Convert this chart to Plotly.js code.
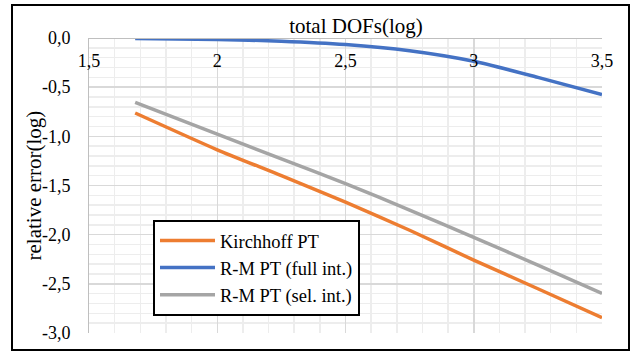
<!DOCTYPE html>
<html>
<head>
<meta charset="utf-8">
<script src="https://cdn.plot.ly/plotly-3.0.1.min.js"></script>
<style>
  html, body { margin: 0; padding: 0; background: #ffffff; }
  #chart { width: 635px; height: 352px; }
</style>
</head>
<body>
<div id="chart"></div>
<script>
// log10 of total DOFs (sample positions)
const dofsLog = [1.68, 2.0, 2.25, 2.5, 2.75, 3.0, 3.25, 3.5];
// log10 of relative error
const kirchhoff = [-0.763, -1.137, -1.40, -1.67, -1.955, -2.259, -2.55, -2.845];
const rmFull    = [-0.005, -0.015, -0.032, -0.066, -0.13, -0.237, -0.40, -0.575];
const rmSel     = [-0.655, -0.977, -1.23, -1.48, -1.75, -2.027, -2.31, -2.598];

const seriesNames = ["Kirchhoff PT", "R-M PT (full int.)", "R-M PT (sel. int.)"];
const xTickVals = [1.5, 2, 2.5, 3, 3.5];
const xTickText = ["1,5", "2", "2,5", "3", "3,5"];
const yTickVals = [0, -0.5, -1, -1.5, -2, -2.5, -3];
const yTickText = ["0,0", "-0,5", "-1,0", "-1,5", "-2,0", "-2,5", "-3,0"];
const xTitle = "total DOFs(log)";
const yTitle = "relative error(log)";

const FONT = "'Liberation Serif', 'Times New Roman', serif";
const colors = ["#ED7D31", "#4472C4", "#A5A5A5"];
const ys = [kirchhoff, rmFull, rmSel];

const traces = ys.map((y, i) => ({
  x: dofsLog, y: y, name: seriesNames[i], type: "scatter", mode: "lines",
  line: { color: colors[i], width: 3.5, shape: "spline", smoothing: 0.6 }
}));

const layout = {
  width: 635, height: 352,
  margin: { l: 89, r: 33, t: 38, b: 19 },
  paper_bgcolor: "#ffffff", plot_bgcolor: "#ffffff",
  font: { family: FONT, size: 18, color: "#000000" },
  showlegend: true,
  title: { text: xTitle, font: { family: FONT, size: 21, color: "#000" },
           x: 356 / 635, xanchor: "center", xref: "container",
           y: 1 - 26 / 352, yanchor: "middle", yref: "container" },
  xaxis: {
    range: [1.5, 3.5], side: "bottom", anchor: "free", position: 1,
    tickmode: "array", tickvals: xTickVals, ticktext: xTickText,
    ticks: "", ticklabelstandoff: 6, showline: true, linecolor: "#bfbfbf", linewidth: 1,
    showgrid: true, gridcolor: "#d9d9d9", gridwidth: 1.5, zeroline: false,
    tickfont: { family: FONT, size: 18, color: "#000" },
    minor: { tickmode: "linear", tick0: 1.5, dtick: 0.1, showgrid: true, gridcolor: "#ededed", gridwidth: 1.5, ticks: "" },
    fixedrange: true
  },
  yaxis: {
    range: [-3, 0], tickmode: "array", tickvals: yTickVals, ticktext: yTickText,
    ticks: "", ticklabelstandoff: 14, showline: true, linecolor: "#bfbfbf", linewidth: 1,
    showgrid: true, gridcolor: "#d9d9d9", gridwidth: 1.5, zeroline: false,
    tickfont: { family: FONT, size: 18, color: "#000" },
    minor: { tickmode: "linear", tick0: 0, dtick: 0.1, showgrid: true, gridcolor: "#ededed", gridwidth: 1.5, ticks: "" },
    fixedrange: true
  },
  annotations: [{
    text: yTitle, textangle: -90, showarrow: false,
    xref: "paper", yref: "paper", x: (33 - 89) / 513, y: 0.5,
    xanchor: "center", yanchor: "middle",
    font: { family: FONT, size: 21, color: "#000" }
  }],
  legend: {
    x: (153 - 89) / 513, xanchor: "left", y: (333 - 220) / 295, yanchor: "top",
    bgcolor: "#ffffff", bordercolor: "#000000", borderwidth: 2,
    font: { family: FONT, size: 18.5, color: "#000" }, itemwidth: 55,
    traceorder: "normal"
  },
  shapes: [{
    type: "rect", xref: "paper", yref: "paper",
    x0: (12 - 89) / 513, x1: (629 - 89) / 513,
    y0: (333 - 350) / 295, y1: (333 - 5) / 295,
    line: { color: "#000000", width: 2 }, fillcolor: "rgba(0,0,0,0)", layer: "above"
  }]
};

Plotly.newPlot("chart", traces, layout, { displayModeBar: false, staticPlot: true });
</script>
</body>
</html>
